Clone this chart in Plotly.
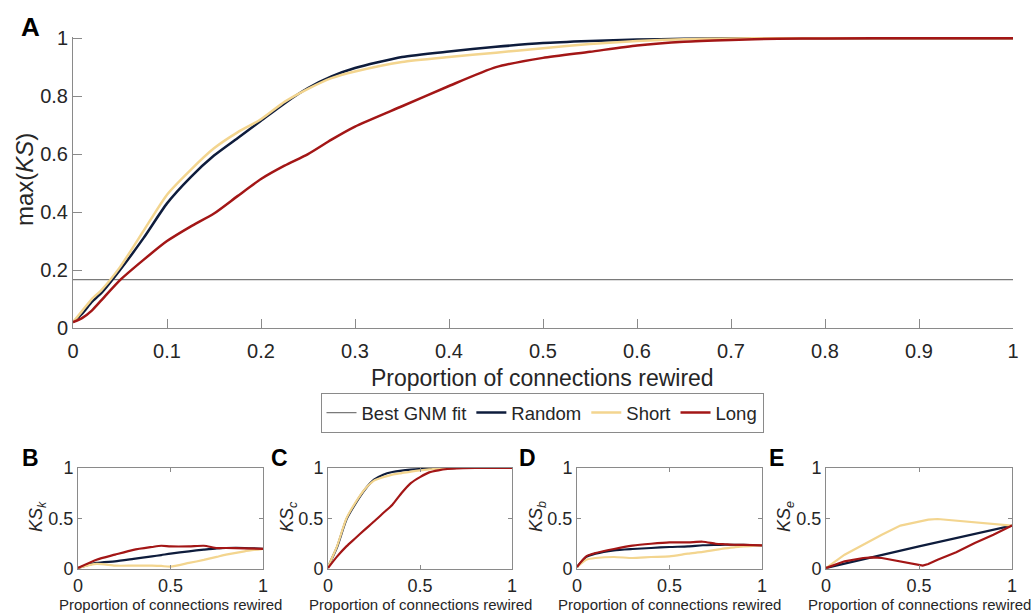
import plotly.graph_objects as go

# ---------------- data ----------------
main_x = [0, 0.01, 0.02, 0.03, 0.05, 0.075, 0.1, 0.125, 0.15, 0.175, 0.2, 0.225, 0.25,
          0.275, 0.3, 0.35, 0.4, 0.45, 0.5, 0.55, 0.6, 0.65, 0.7, 0.75, 0.8, 0.9, 1.0]
main_random = [0.02, 0.05, 0.09, 0.12, 0.20, 0.31, 0.43, 0.52, 0.595, 0.655, 0.715, 0.775, 0.828,
               0.868, 0.897, 0.935, 0.954, 0.970, 0.983, 0.990, 0.995, 0.998, 1.0, 1.0, 1.0, 1.0, 1.0]
main_short = [0.02, 0.06, 0.10, 0.13, 0.21, 0.335, 0.46, 0.545, 0.62, 0.675, 0.72, 0.78, 0.825,
              0.862, 0.885, 0.918, 0.935, 0.950, 0.965, 0.980, 0.990, 0.996, 0.999, 1.0, 1.0, 1.0, 1.0]
main_long = [0.02, 0.035, 0.06, 0.095, 0.165, 0.235, 0.30, 0.35, 0.395, 0.455, 0.514, 0.56, 0.60,
             0.65, 0.695, 0.765, 0.835, 0.900, 0.932, 0.953, 0.975, 0.988, 0.994, 0.998, 0.999, 1.0, 1.0]
gnm_x = [0, 1]
gnm_y = [0.167, 0.167]

# panel B: KS_k
b_x = [0, 0.1, 0.2, 0.3, 0.4, 0.45, 0.5, 0.6, 0.68, 0.75, 0.8, 0.9, 1.0]
b_random = [0.01, 0.06, 0.076, 0.10, 0.125, 0.138, 0.152, 0.175, 0.192, 0.205, 0.208, 0.208, 0.20]
b_short = [0.01, 0.05, 0.033, 0.033, 0.033, 0.03, 0.023, 0.06, 0.09, 0.12, 0.142, 0.175, 0.20]
b_long = [0.01, 0.092, 0.142, 0.19, 0.218, 0.23, 0.224, 0.224, 0.23, 0.208, 0.208, 0.204, 0.20]

# panel C: KS_c
c_x = [0, 0.05, 0.1, 0.15, 0.2, 0.25, 0.3, 0.35, 0.4, 0.45, 0.5, 0.55, 0.6, 0.65, 0.7, 0.8, 1.0]
c_random = [0.02, 0.22, 0.49, 0.65, 0.785, 0.884, 0.934, 0.96, 0.974, 0.983, 0.99, 0.994, 0.997, 0.999, 1.0, 1.0, 1.0]
c_short = [0.02, 0.23, 0.50, 0.66, 0.79, 0.875, 0.91, 0.935, 0.95, 0.965, 0.977, 0.986, 0.993, 0.997, 1.0, 1.0, 1.0]
c_long = [0.01, 0.125, 0.224, 0.307, 0.39, 0.47, 0.554, 0.637, 0.752, 0.85, 0.91, 0.957, 0.977, 0.99, 0.997, 1.0, 1.0]

# panel D: KS_b
d_x = [0, 0.05, 0.1, 0.2, 0.3, 0.4, 0.5, 0.6, 0.68, 0.75, 0.8, 0.85, 0.9, 1.0]
d_random = [0.02, 0.12, 0.152, 0.185, 0.198, 0.208, 0.218, 0.224, 0.235, 0.238, 0.24, 0.24, 0.24, 0.234]
d_short = [0.02, 0.092, 0.109, 0.119, 0.109, 0.119, 0.125, 0.152, 0.17, 0.19, 0.205, 0.215, 0.224, 0.234]
d_long = [0.02, 0.125, 0.158, 0.198, 0.231, 0.25, 0.264, 0.264, 0.27, 0.25, 0.245, 0.24, 0.238, 0.234]

# panel E: KS_e
e_x_random = [0, 0.5, 1.0]
e_random = [0.01, 0.224, 0.43]
e_x = [0, 0.1, 0.2, 0.25, 0.3, 0.4, 0.5, 0.52, 0.55, 0.6, 0.7, 0.8, 0.9, 1.0]
e_short = [0.01, 0.142, 0.24, 0.29, 0.34, 0.43, 0.465, 0.475, 0.488, 0.495, 0.48, 0.462, 0.449, 0.43]
e_long = [0.01, 0.076, 0.109, 0.115, 0.109, 0.076, 0.036, 0.033, 0.05, 0.092, 0.165, 0.257, 0.34, 0.43]

main_ticks = [0, 0.1, 0.2, 0.3, 0.4, 0.5, 0.6, 0.7, 0.8, 0.9, 1.0]
main_ticktext = ["0", "0.1", "0.2", "0.3", "0.4", "0.5", "0.6", "0.7", "0.8", "0.9", "1"]
main_yticks = [0, 0.2, 0.4, 0.6, 0.8, 1.0]
main_yticktext = ["0", "0.2", "0.4", "0.6", "0.8", "1"]
small_ticks = [0, 0.5, 1.0]
small_ticktext = ["0", "0.5", "1"]

series_names = ["Random", "Short", "Long"]
colors = {"Random": "#0e1c3c", "Short": "#f3d58f", "Long": "#a31616", "GNM": "#7a7a7a"}

FONT = "Liberation Sans, Arial, Helvetica, sans-serif"
TXT = "#262626"
AX = "#8a8a8a"

fig = go.Figure()

# ---------------- main panel ----------------
fig.add_trace(go.Scatter(x=gnm_x, y=gnm_y, mode="lines", name="Best GNM fit",
                         line=dict(color=colors["GNM"], width=1.2), xaxis="x", yaxis="y"))
for nm, ys in zip(series_names, [main_random, main_short, main_long]):
    fig.add_trace(go.Scatter(x=main_x, y=ys, mode="lines", name=nm,
                             line=dict(color=colors[nm], width=2.5, shape="spline", smoothing=0.6),
                             xaxis="x", yaxis="y"))

# ---------------- small panels ----------------
panels = [
    ("x2", "y2", [(b_x, b_random), (b_x, b_short), (b_x, b_long)], "spline"),
    ("x3", "y3", [(c_x, c_random), (c_x, c_short), (c_x, c_long)], "spline"),
    ("x4", "y4", [(d_x, d_random), (d_x, d_short), (d_x, d_long)], "spline"),
    ("x5", "y5", [(e_x_random, e_random), (e_x, e_short), (e_x, e_long)], "linear"),
]
for xa, ya, sers, shp in panels:
    for nm, (xs, ys) in zip(series_names, sers):
        ln = dict(color=colors[nm], width=2.2, shape=shp)
        if shp == "spline":
            ln["smoothing"] = 0.6
        fig.add_trace(go.Scatter(x=xs, y=ys, mode="lines", name=nm, showlegend=False,
                                 line=ln, xaxis=xa, yaxis=ya))

W, H = 1034, 613
def px(v):
    return v / W
def py(v):
    return 1 - v / H

main_axis_common = dict(showline=True, linecolor=AX, linewidth=1, ticks="inside", ticklen=9,
                        tickcolor=AX, showgrid=False, zeroline=False, automargin=False,
                        tickfont=dict(family=FONT, size=20, color=TXT))
small_axis_common = dict(showline=True, linecolor=AX, linewidth=1, ticks="inside", ticklen=4,
                         tickcolor=AX, showgrid=False, zeroline=False, mirror="ticks", automargin=False,
                         tickfont=dict(family=FONT, size=18, color=TXT),
                         tickvals=small_ticks, ticktext=small_ticktext)

layout = dict(
    width=W, height=H, margin=dict(l=0, r=0, t=0, b=0, autoexpand=False),
    paper_bgcolor="white", plot_bgcolor="white",
    font=dict(family=FONT, color=TXT),
    xaxis=dict(domain=[px(73), px(1013)], range=[0, 1], tickvals=main_ticks, ticktext=main_ticktext,
               anchor="y", ticklabelstandoff=5, **main_axis_common),
    yaxis=dict(domain=[py(328), py(37)], range=[0, 1.004], tickvals=main_yticks, ticktext=main_yticktext,
               anchor="x", **main_axis_common),
    legend=dict(orientation="h", x=px(542), xanchor="center", y=py(413), yanchor="middle",
                bordercolor=AX, borderwidth=1, bgcolor="white",
                font=dict(family=FONT, size=18.5, color=TXT), tracegroupgap=0),
    showlegend=True,
)

small_x_domains = [(78, 263), (328, 512), (577, 762), (826, 1012)]
for i, (l, r) in enumerate(small_x_domains):
    n = i + 2
    layout[f"xaxis{n}"] = dict(domain=[px(l), px(r)], range=[0, 1], anchor=f"y{n}", **small_axis_common)
    layout[f"yaxis{n}"] = dict(domain=[py(569), py(468)], range=[0, 1], anchor=f"x{n}", **small_axis_common)

fig.update_layout(**layout)

ann = []
# panel letters
for letter, (lx, ly, sz) in {"A": (30, 27, 26), "B": (30, 458, 23), "C": (279, 458, 23),
                             "D": (527, 458, 23), "E": (776, 458, 23)}.items():
    ann.append(dict(text=f"<b>{letter}</b>", x=px(lx), y=py(ly), xref="paper", yref="paper",
                    xanchor="center", yanchor="middle", showarrow=False,
                    font=dict(family=FONT, size=sz, color="black")))
# main titles
ann.append(dict(text="Proportion of connections rewired", x=px(542), y=py(378), xref="paper", yref="paper",
                xanchor="center", yanchor="middle", showarrow=False, font=dict(family=FONT, size=23, color=TXT)))
ann.append(dict(text="max(<i>KS</i>)", x=px(24), y=py(180), xref="paper", yref="paper",
                xanchor="center", yanchor="middle", textangle=-90, showarrow=False,
                font=dict(family=FONT, size=24, color=TXT)))
# small titles
sub = ["k", "c", "b", "e"]
ytitle_x = [37, 288, 537, 785]
for (l, r), s, yx in zip(small_x_domains, sub, ytitle_x):
    ann.append(dict(text="Proportion of connections rewired", x=px((l + r) / 2), y=py(604),
                    xref="paper", yref="paper", xanchor="center", yanchor="middle", showarrow=False,
                    font=dict(family=FONT, size=15, color=TXT)))
    ann.append(dict(text=f"<i>KS</i><sub><i>{s}</i></sub>", x=px(yx), y=py(517), xref="paper", yref="paper",
                    xanchor="center", yanchor="middle", textangle=-90, showarrow=False,
                    font=dict(family=FONT, size=18, color=TXT)))
fig.update_layout(annotations=ann)

fig.write_html("out.html")
